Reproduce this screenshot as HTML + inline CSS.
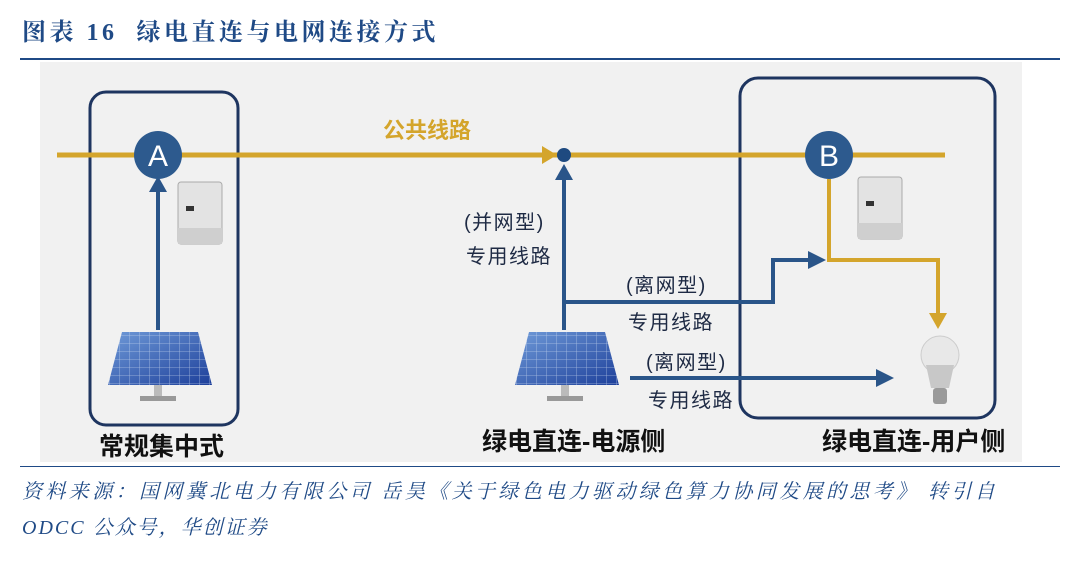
<!DOCTYPE html>
<html><head><meta charset="utf-8"><style>
body{margin:0;width:1080px;height:569px;background:#fff;overflow:hidden;position:relative;font-family:"Liberation Sans","Noto Sans CJK SC",sans-serif}
.t{position:absolute;white-space:nowrap}
.l{font-size:20px;color:#1e2a44;letter-spacing:1.5px}
.b{font-size:25px;font-weight:bold;color:#111}
</style></head><body>
<div class="t" style="left:22px;top:12px;font-family:'Liberation Serif','Noto Serif CJK SC',serif;font-weight:bold;font-size:24px;color:#1f4a86;letter-spacing:3.5px">图表 16&nbsp; 绿电直连与电网连接方式</div>
<div style="position:absolute;left:20px;top:58px;width:1040px;height:2px;background:#1f4a86"></div>
<svg style="position:absolute;left:0;top:0" width="1080" height="569">
<defs>
<linearGradient id="pv" x1="0" y1="0" x2="1" y2="1"><stop offset="0" stop-color="#6f9ad8"/><stop offset="1" stop-color="#1d3f9a"/></linearGradient>
<pattern id="grid" width="10" height="8" patternUnits="userSpaceOnUse"><path d="M10 0V8M0 8H10" stroke="#d8e4f5" stroke-width="0.8"/></pattern>
</defs>
<rect x="40" y="62" width="982" height="400" fill="#f1f1f1"/>
<rect x="90" y="92" width="148" height="333" rx="16" fill="none" stroke="#1e3560" stroke-width="3"/>
<rect x="740" y="78" width="255" height="340" rx="18" fill="none" stroke="#1e3560" stroke-width="3"/>
<line x1="57" y1="155" x2="945" y2="155" stroke="#d4a52c" stroke-width="5"/>
<polygon points="542,146 557,155 542,164" fill="#d4a52c"/>
<circle cx="564" cy="155" r="7" fill="#1e4a80"/>
<g stroke="#2a5589" stroke-width="4" fill="none">
<line x1="158" y1="330" x2="158" y2="190"/>
<line x1="564" y1="330" x2="564" y2="178"/>
<polyline points="564,302 773,302 773,260 810,260"/>
<line x1="630" y1="378" x2="878" y2="378"/>
</g>
<polygon points="149,192 158,176 167,192" fill="#2a5589"/>
<polygon points="555,180 564,164 573,180" fill="#2a5589"/>
<polygon points="808,251 826,260 808,269" fill="#2a5589"/>
<polygon points="876,369 894,378 876,387" fill="#2a5589"/>
<polyline points="829,179 829,260 938,260 938,315" stroke="#d4a52c" stroke-width="4" fill="none"/>
<polygon points="929,313 938,329 947,313" fill="#d4a52c"/>
<circle cx="158" cy="155" r="24" fill="#2d5a8e"/>
<circle cx="829" cy="155" r="24" fill="#2d5a8e"/>
<text x="158" y="166" font-size="30" fill="#fff" text-anchor="middle" font-family="Liberation Sans">A</text>
<text x="829" y="166" font-size="30" fill="#fff" text-anchor="middle" font-family="Liberation Sans">B</text>
<g>
<polygon points="122,332 198,332 212,385 108,385" fill="url(#pv)"/>
<polygon points="122,332 198,332 212,385 108,385" fill="url(#grid)" opacity="0.7"/>
<rect x="154" y="385" width="8" height="12" fill="#bbb"/>
<rect x="140" y="396" width="36" height="5" fill="#999"/>
</g>
<g transform="translate(407,0)">
<polygon points="122,332 198,332 212,385 108,385" fill="url(#pv)"/>
<polygon points="122,332 198,332 212,385 108,385" fill="url(#grid)" opacity="0.7"/>
<rect x="154" y="385" width="8" height="12" fill="#bbb"/>
<rect x="140" y="396" width="36" height="5" fill="#999"/>
</g>
<g>
<rect x="178" y="182" width="44" height="62" rx="3" fill="#e3e3e3" stroke="#aaa"/>
<rect x="178" y="228" width="44" height="16" fill="#cfcfcf"/>
<rect x="186" y="206" width="8" height="5" fill="#333"/>
</g>
<g transform="translate(680,-5)">
<rect x="178" y="182" width="44" height="62" rx="3" fill="#e3e3e3" stroke="#aaa"/>
<rect x="178" y="228" width="44" height="16" fill="#cfcfcf"/>
<rect x="186" y="206" width="8" height="5" fill="#333"/>
</g>
<circle cx="940" cy="355" r="19" fill="#e8e8e8" stroke="#ccc"/>
<path d="M926,365 L931,388 L949,388 L954,365 Z" fill="#c8c8c8"/>
<rect x="933" y="388" width="14" height="16" rx="3" fill="#9a9a9a"/>
</svg>
<div class="t" style="left:383px;top:113px;font-size:22px;font-weight:bold;color:#d4a52c">公共线路</div>
<div class="t l" style="left:464px;top:206px">(并网型)</div>
<div class="t l" style="left:466px;top:240px">专用线路</div>
<div class="t l" style="left:626px;top:269px">(离网型)</div>
<div class="t l" style="left:628px;top:306px">专用线路</div>
<div class="t l" style="left:646px;top:346px">(离网型)</div>
<div class="t l" style="left:648px;top:384px">专用线路</div>
<div class="t b" style="left:99px;top:427px">常规集中式</div>
<div class="t b" style="left:482px;top:422px">绿电直连-电源侧</div>
<div class="t b" style="left:822px;top:422px">绿电直连-用户侧</div>
<div style="position:absolute;left:20px;top:466px;width:1040px;height:1px;background:#1f4a86"></div>
<div class="t" style="left:22px;top:475px;font-family:'Liberation Serif','Noto Serif CJK SC',serif;font-style:italic;font-size:20px;color:#1f4a86;letter-spacing:3.4px">资料来源：国网冀北电力有限公司 岳昊《关于绿色电力驱动绿色算力协同发展的思考》 转引自</div>
<div class="t" style="left:22px;top:511px;font-family:'Liberation Serif','Noto Serif CJK SC',serif;font-style:italic;font-size:20px;color:#1f4a86;letter-spacing:2px">ODCC 公众号，华创证券</div>
</body></html>
